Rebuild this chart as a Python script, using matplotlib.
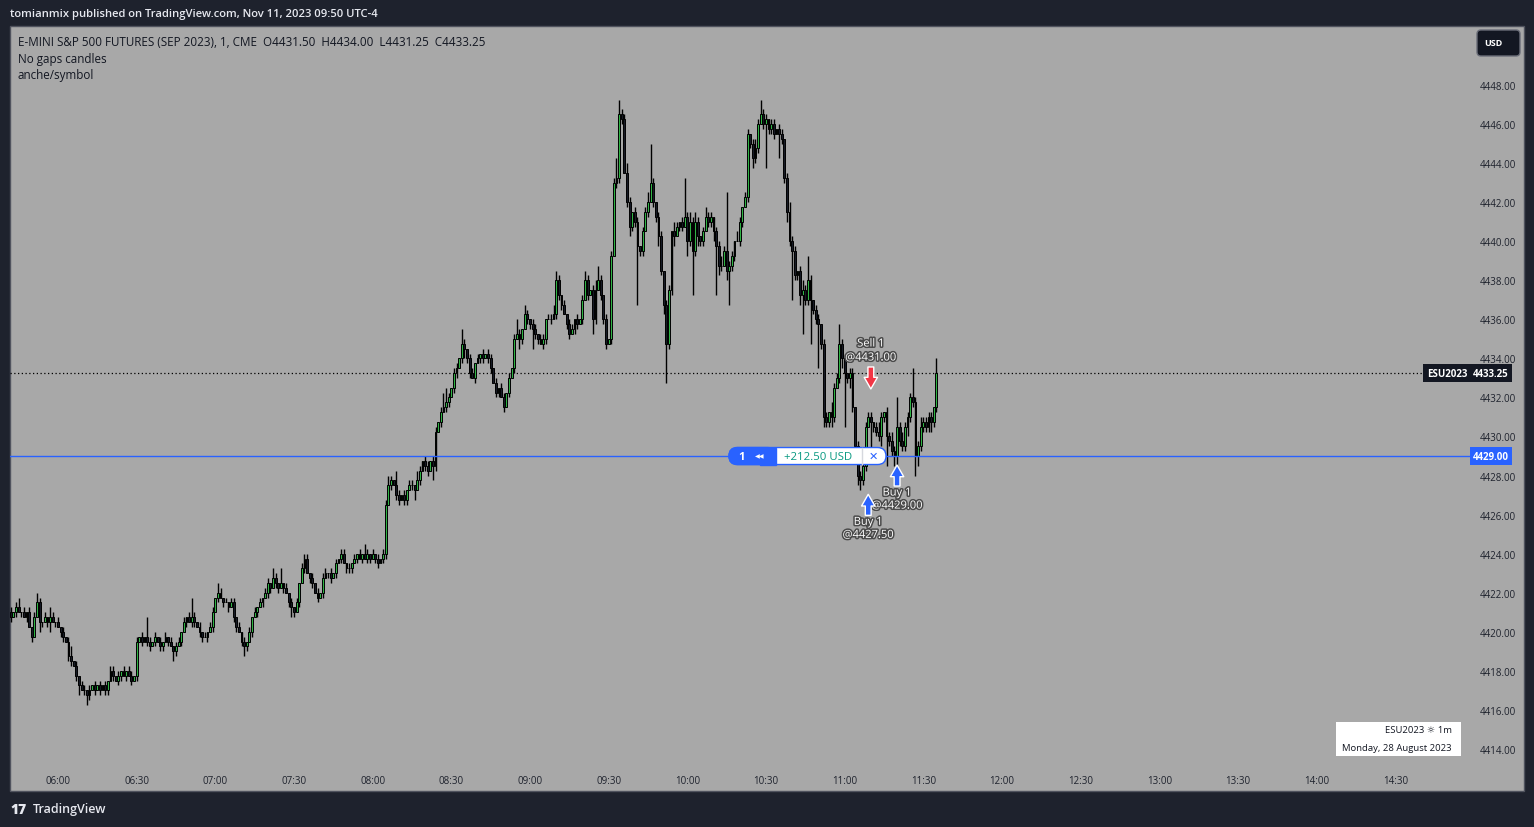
import numpy as np
import matplotlib.pyplot as plt
from matplotlib.patches import Rectangle, FancyBboxPatch
from matplotlib.transforms import blended_transform_factory
import matplotlib.patheffects as pe

plt.rcParams['font.family'] = ['Open Sans', 'DejaVu Sans']

W, H = 1534, 828

# ---- data (1 minute candles, ESU2023, 28 Aug 2023) ----
start_minute = 5 * 60 + 42          # first candle 05:42
first_open = 4421.0
closes = [
    4420.75, 4421.0, 4421.25, 4421.0, 4421.0, 4420.75, 4421.0, 4420.25, 4419.75, 4420.75,
    4421.5, 4420.5, 4420.5, 4420.75, 4420.5, 4420.75, 4420.5, 4420.5, 4420.25, 4420.0,
    4419.75, 4419.5, 4418.75, 4418.5, 4418.25, 4417.75, 4417.25, 4417.0, 4417.0, 4416.75,
    4417.0, 4417.25, 4417.0, 4417.25, 4417.0, 4417.25, 4417.0, 4417.5, 4418.0, 4417.75,
    4417.5, 4417.75, 4418.0, 4417.75, 4418.0, 4417.75, 4417.5, 4417.75, 4419.5, 4419.75,
    4419.5, 4419.75, 4419.5, 4419.25, 4419.5, 4419.75, 4419.5, 4419.25, 4419.5, 4419.75,
    4419.5, 4419.25, 4419.0, 4419.25, 4419.5, 4420.0, 4420.5, 4420.75, 4420.5, 4420.75,
    4420.5, 4420.25, 4420.0, 4419.75, 4419.75, 4420.0, 4420.25, 4421.0, 4421.75, 4422.0,
    4421.75, 4421.5, 4421.5, 4421.25, 4421.5, 4420.75, 4420.25, 4420.0, 4419.5, 4419.25,
    4419.5, 4420.0, 4420.75, 4421.0, 4421.25, 4421.5, 4421.75, 4422.0, 4422.5, 4422.25,
    4422.75, 4422.5, 4422.25, 4422.5, 4422.25, 4422.0, 4421.5, 4421.25, 4421.0, 4421.5,
    4422.5, 4423.25, 4423.75, 4423.0, 4422.75, 4422.5, 4422.0, 4421.75, 4422.0, 4422.75,
    4423.0, 4423.0, 4422.75, 4423.0, 4423.5, 4423.75, 4424.0, 4423.5, 4423.25, 4423.25,
    4423.5, 4423.75, 4424.0, 4423.75, 4424.0, 4423.75, 4424.0, 4423.75, 4424.0, 4423.75,
    4423.5, 4423.75, 4424.0, 4426.5, 4427.5, 4427.75, 4427.5, 4427.0, 4426.75, 4427.0,
    4426.75, 4427.25, 4427.5, 4427.5, 4427.25, 4427.75, 4428.25, 4428.75, 4428.5, 4428.25,
    4428.75, 4428.5, 4430.25, 4430.75, 4431.25, 4431.5, 4431.75, 4432.0, 4432.5, 4433.25,
    4433.5, 4434.0, 4434.75, 4434.5, 4434.0, 4433.25, 4433.0, 4433.75, 4434.0, 4434.25,
    4434.0, 4434.25, 4434.0, 4433.5, 4432.75, 4432.25, 4432.5, 4432.0, 4431.5, 4432.25,
    4433.0, 4433.5, 4435.0, 4435.25, 4435.0, 4435.5, 4436.25, 4436.0, 4435.75, 4435.5,
    4435.25, 4435.0, 4434.75, 4435.0, 4436.0, 4436.0, 4436.0, 4436.25, 4438.0, 4437.25,
    4436.75, 4436.25, 4435.75, 4435.25, 4435.5, 4436.0, 4435.75, 4436.0, 4437.0, 4438.0,
    4437.25, 4437.5, 4436.0, 4437.5, 4438.0, 4437.25, 4436.0, 4434.75, 4435.0, 4439.25,
    4443.0, 4443.25, 4446.5, 4446.25, 4443.5, 4442.0, 4440.75, 4441.5, 4441.0, 4439.75,
    4439.5, 4440.5, 4441.5, 4442.0, 4443.0, 4442.0, 4441.25, 4440.25, 4438.5, 4436.75,
    4434.75, 4437.5, 4440.5, 4440.25, 4440.75, 4441.0, 4440.75, 4441.25, 4440.0, 4441.0,
    4439.5, 4441.0, 4440.25, 4440.0, 4440.5, 4441.25, 4441.0, 4441.25, 4440.5, 4439.75,
    4438.75, 4438.75, 4439.5, 4438.5, 4438.75, 4439.25, 4440.0, 4440.0, 4441.0, 4441.75,
    4442.25, 4445.5, 4445.0, 4444.25, 4444.75, 4446.0, 4446.5, 4446.0, 4446.25, 4445.75,
    4446.0, 4445.5, 4445.75, 4445.5, 4445.25, 4443.25, 4441.5, 4440.0, 4439.5, 4438.25,
    4438.5, 4437.25, 4437.5, 4437.0, 4438.0, 4437.0, 4436.5, 4436.0, 4435.75, 4434.75,
    4431.0, 4430.75, 4431.25, 4431.0, 4432.5, 4433.0, 4434.75, 4434.0, 4433.25, 4433.0,
    4433.25, 4431.5, 4429.5, 4428.0, 4427.75, 4428.5, 4430.5, 4431.0, 4430.75, 4430.5,
    4430.25, 4430.0, 4431.0, 4431.25, 4430.0, 4429.75, 4429.25, 4429.0, 4430.5, 4429.75,
    4429.5, 4430.5, 4431.0, 4432.0, 4431.75, 4429.0, 4429.5, 4430.5, 4430.75, 4430.5,
    4431.0, 4430.75, 4431.5, 4433.25,
]
# wick length above / below the body, in ticks of 0.25
hi_ticks = [
    1, 0, 1, 2, 0, 1, 0, 1, 0, 1,  2, 1, 0, 1, 0, 2, 1, 0, 1, 0,
    1, 0, 1, 2, 0, 1, 0, 1, 1, 0,  1, 0, 1, 0, 1, 0, 1, 0, 1, 1,
    0, 1, 0, 1, 0, 1, 1, 0, 1, 0,  1, 0, 4, 1, 0, 1, 0, 1, 0, 1,
    0, 1, 0, 1, 1, 0, 1, 0, 1, 4,  1, 0, 1, 0, 1, 0, 1, 1, 0, 2,
    1, 0, 1, 0, 1, 1, 0, 1, 0, 1,  0, 1, 0, 1, 0, 1, 0, 1, 1, 0,
    2, 1, 0, 3, 0, 1, 0, 1, 0, 1,  0, 1, 1, 1, 0, 1, 0, 1, 0, 1,
    1, 0, 1, 0, 1, 0, 1, 1, 0, 1,  0, 1, 0, 1, 0, 2, 1, 0, 1, 0,
    1, 0, 1, 1, 2, 1, 0, 3, 1, 0,  1, 0, 1, 1, 0, 2, 1, 0, 1, 1,
    0, 1, 1, 0, 1, 3, 3, 1, 0, 1,  1, 0, 3, 1, 0, 1, 1, 0, 1, 0,
    1, 0, 1, 1, 0, 1, 0, 1, 1, 0,  1, 0, 1, 3, 1, 0, 2, 1, 0, 1,
    1, 0, 1, 1, 0, 1, 1, 2, 2, 1,  0, 1, 0, 1, 1, 0, 1, 0, 1, 2,
    1, 0, 1, 2, 3, 1, 0, 1, 0, 1,  1, 4, 3, 1, 1, 2, 1, 0, 1, 1,
    0, 1, 1, 2, 8, 1, 0, 1, 1, 0,  1, 1, 0, 2, 1, 0, 1, 8, 1, 2,
    1, 2, 1, 0, 1, 2, 1, 1, 0, 1,  1, 2, 1, 12, 1, 1, 0, 2, 1, 0,
    1, 1, 0, 1, 2, 1, 3, 1, 1, 0,  1, 1, 0, 1, 1, 0, 1, 2, 1, 1,
    0, 1, 2, 1, 5, 1, 0, 1, 1, 0,  1, 1, 0, 2, 1, 1, 4, 1, 1, 0,
    1, 1, 0, 1, 1, 2, 1, 1, 1, 0,  1, 2, 1, 0, 1, 1, 2, 1, 6, 1,
    2, 1, 1, 1, 6, 1, 1, 2, 1, 1,  1, 1, 0, 3,
]
lo_ticks = [
    1, 0, 1, 0, 1, 0, 1, 0, 1, 0,  0, 2, 1, 0, 1, 2, 0, 1, 0, 1,
    1, 0, 1, 1, 0, 1, 2, 0, 1, 2,  1, 0, 1, 0, 1, 0, 1, 1, 0, 1,
    0, 1, 1, 0, 1, 0, 1, 0, 1, 0,  1, 0, 1, 1, 0, 1, 0, 1, 1, 0,
    1, 0, 2, 1, 0, 1, 0, 1, 0, 1,  1, 0, 1, 1, 0, 1, 0, 1, 0, 1,
    0, 1, 0, 1, 0, 1, 1, 0, 1, 2,  1, 0, 1, 0, 1, 0, 1, 0, 1, 1,
    0, 1, 1, 0, 1, 0, 1, 2, 1, 0,  1, 0, 1, 0, 1, 1, 0, 1, 0, 1,
    0, 1, 1, 0, 1, 0, 1, 0, 1, 1,  1, 0, 1, 0, 1, 0, 1, 1, 0, 1,
    1, 0, 1, 1, 0, 1, 0, 1, 1, 0,  1, 1, 0, 1, 2, 0, 1, 0, 1, 1,
    0, 3, 1, 0, 1, 0, 1, 1, 0, 1,  1, 0, 1, 2, 1, 1, 0, 1, 0, 1,
    1, 0, 1, 1, 0, 1, 1, 0, 1, 0,  1, 0, 1, 0, 2, 1, 0, 1, 1, 4,
    1, 1, 0, 1, 1, 0, 1, 0, 1, 1,  1, 0, 1, 1, 0, 1, 1, 0, 1, 0,
    1, 0, 3, 1, 0, 1, 1, 1, 0, 1,  0, 1, 1, 1, 0, 1, 2, 1, 1, 12,
    1, 1, 0, 1, 0, 1, 1, 2, 1, 2,  8, 1, 1, 2, 0, 1, 1, 0, 3, 1,
    9, 1, 2, 1, 1, 0, 1, 1, 2, 10,  2, 1, 0, 2, 7, 1, 1, 0, 1, 1,
    0, 1, 1, 2, 1, 1, 0, 1, 9, 1,  1, 1, 0, 5, 1, 1, 2, 1, 10, 1,
    1, 2, 8, 1, 1, 9, 1, 1, 9, 1,  2, 1, 1, 2, 1, 0, 1, 2, 11, 1,
    2, 1, 1, 2, 2, 1, 1, 0, 8, 1,  1, 1, 2, 1, 6, 1, 1, 2, 2, 1,
    1, 1, 2, 1, 1, 4, 2, 1, 1, 1,  1, 2, 1, 1,
]
tick_times = ['06:00', '06:30', '07:00', '07:30', '08:00', '08:30', '09:00', '09:30',
              '10:00', '10:30', '11:00', '11:30', '12:00', '12:30', '13:00', '13:30',
              '14:00', '14:30']
price_ticks = [4414, 4416, 4418, 4420, 4422, 4424, 4426, 4428, 4430, 4432,
               4434, 4436, 4438, 4440, 4442, 4444, 4446, 4448]
pos_qty = 1
pos_price = 4429.00
pos_pnl = 212.50
trade_side = ['Sell', 'Buy', 'Buy']
trade_price = [4431.00, 4429.00, 4427.50]
trade_bar = [328, 338, 327]

# ---- derived OHLC ----
closes = np.array(closes)
opens = np.r_[first_open, closes[:-1]]
highs = np.maximum(opens, closes) + np.array(hi_ticks) * 0.25
lows = np.minimum(opens, closes) - np.array(lo_ticks) * 0.25
idx = np.arange(len(closes))
last = closes[-1]

fig = plt.figure(figsize=(W / 100, H / 100), dpi=100, facecolor='#1e222d')

# background panel (pixel coords)
bg = fig.add_axes([0, 0, 1, 1], zorder=0)
bg.set_xlim(0, W)
bg.set_ylim(H, 0)
bg.axis('off')
bg.add_patch(Rectangle((10, 27), 1514, 765, fc='#a8a8a8', ec='#50535e', lw=1))

# main chart
ax = fig.add_axes([10 / W, (H - 765) / H, 1460 / W, 738 / H], zorder=1)
ax.set_facecolor('none')
ax.set_xlim(-0.3, 556.5)
ax.set_ylim(4413.23, 4451.02)
for s in ax.spines.values():
    s.set_visible(False)

ax.vlines(idx, lows, highs, color='black', lw=1, zorder=2)
body_col = np.where(closes > opens, '#2fb344', '#161a25')
ax.bar(idx, closes - opens, bottom=opens, width=0.7, color=body_col,
       edgecolor='black', linewidth=0.7, zorder=3)

ax.axhline(pos_price, color='#2962ff', lw=1, zorder=4)
ax.axhline(last, color='black', lw=0.9, ls=(0, (1, 2)), zorder=1)

ax.yaxis.tick_right()
ax.set_yticks(price_ticks)
ax.set_yticklabels([f'{p:.2f}' for p in price_ticks])
tpos = [int(t[:2]) * 60 + int(t[3:]) - start_minute for t in tick_times]
ax.set_xticks(tpos)
ax.set_xticklabels(tick_times)
ax.tick_params(axis='y', length=0, pad=7, labelsize=7, labelcolor='#1e222d')
ax.tick_params(axis='x', length=0, pad=8, labelsize=7, labelcolor='#1e222d')

trans = blended_transform_factory(ax.transAxes, ax.transData)
ax.text(1.0 + 3 / 1460, pos_price, f'{pos_price:.2f}', transform=trans, ha='left', va='center',
        fontsize=7, color='white', weight='bold', clip_on=False, zorder=10,
        bbox=dict(boxstyle='square,pad=0.35', fc='#2962ff', ec='none'))
ax.text(1.0 + 3 / 1460, last, f'{last:.2f}', transform=trans, ha='left', va='center',
        fontsize=7, color='white', weight='bold', clip_on=False, zorder=10,
        bbox=dict(boxstyle='square,pad=0.35', fc='#131722', ec='none'))
ax.text(1.0 - 3 / 1460, last, 'ESU2023', transform=trans, ha='right', va='center',
        fontsize=7, color='white', weight='bold', clip_on=False, zorder=10,
        bbox=dict(boxstyle='square,pad=0.35', fc='#131722', ec='none'))

# overlay in pixel coords
ov = fig.add_axes([0, 0, 1, 1], zorder=5)
ov.set_xlim(0, W)
ov.set_ylim(H, 0)
ov.axis('off')


def to_px(i, p):
    x, y = ax.transData.transform((i, p))
    return x, H - y


ov.text(10, 14, 'tomianmix published on TradingView.com, Nov 11, 2023 09:50 UTC-4',
        color='#e6e8ef', fontsize=8.1, weight='semibold', va='center')
ov.text(18, 42, f'E-MINI S&P 500 FUTURES (SEP 2023), 1, CME  O{opens[-1]:.2f}  H{highs[-1]:.2f}  '
        f'L{lows[-1]:.2f}  C{closes[-1]:.2f}', color='#131722', fontsize=8.35, va='center')
ov.text(18, 59, 'No gaps candles', color='#131722', fontsize=8.35, va='center')
ov.text(18, 76, 'anche/symbol', color='#131722', fontsize=8.35, va='center')

# USD button
ov.add_patch(FancyBboxPatch((1477, 31), 43, 26, boxstyle='round,pad=0,rounding_size=4',
                            fc='#131722', ec='#6a6d78', lw=1))
ov.text(1493, 44, 'USD', color='white', fontsize=6.5, weight='bold', ha='center', va='center')

# date box
ov.add_patch(Rectangle((1336, 723), 125, 34, fc='white', ec='none'))
ov.text(1452, 731, 'ESU2023 ☼ 1m', color='#131722', fontsize=6.8, ha='right', va='center')
ov.text(1452, 749, 'Monday, 28 August 2023', color='#131722', fontsize=6.8, ha='right', va='center')

# position pill
_, yp = to_px(0, pos_price)
ov.add_patch(FancyBboxPatch((729, yp - 8.5), 157, 17, boxstyle='round,pad=0,rounding_size=8.5',
                            fc='white', ec='#2962ff', lw=1, zorder=6))
ov.add_patch(FancyBboxPatch((729, yp - 8.5), 47, 17, boxstyle='round,pad=0,rounding_size=8.5',
                            fc='#2962ff', ec='#2962ff', lw=1, zorder=7))
ov.add_patch(Rectangle((760, yp - 8.5), 16, 17, fc='#2962ff', ec='#2962ff', lw=1, zorder=7))
ov.text(742, yp, str(pos_qty), color='white', fontsize=8, weight='bold', ha='center', va='center', zorder=8)
ov.text(760, yp, '◀◀', color='white', fontsize=4.5, ha='center', va='center', zorder=8,
        family=['DejaVu Sans'])
ov.text(818, yp, f'+{pos_pnl:.2f} USD', color='#089981', fontsize=8.2, ha='center', va='center', zorder=8)
ov.plot([862, 862], [yp - 8, yp + 8], color='#d6d8de', lw=1, zorder=8)
ov.text(873, yp, '✕', color='#2962ff', fontsize=8, ha='center', va='center', zorder=8,
        family=['DejaVu Sans'])

# trade markers
halo = [pe.withStroke(linewidth=2.2, foreground='#4a4a4a')]
for side, price, bar in zip(trade_side, trade_price, trade_bar):
    xp, yp = to_px(bar, price)
    if side == 'Sell':
        col = '#f23645'
        tip, tail = yp - 28, yp - 50
        l1, l2 = yp - 73, yp - 59
    else:
        col = '#2962ff'
        tip, tail = yp + 9, yp + 30
        l1, l2 = yp + 37, yp + 50
    ov.annotate('', xy=(xp, tip), xytext=(xp, tail), zorder=9,
                arrowprops=dict(arrowstyle='simple,head_length=0.7,head_width=0.8,tail_width=0.35',
                                fc=col, ec='white', lw=1, shrinkA=0, shrinkB=0, mutation_scale=12))
    ov.text(xp, l1, f'{side} 1', color='white', fontsize=8, ha='center', va='center',
            path_effects=halo, zorder=9)
    ov.text(xp, l2, f'@{price:.2f}', color='white', fontsize=8, ha='center', va='center',
            path_effects=halo, zorder=9)

# footer logo
ov.text(10, 810, '17', color='#e6e8ef', fontsize=10, weight='heavy', va='center')
ov.text(33, 810, 'TradingView', color='#e6e8ef', fontsize=9, weight='semibold', va='center')

fig.savefig('out.png', dpi=100, facecolor=fig.get_facecolor())
